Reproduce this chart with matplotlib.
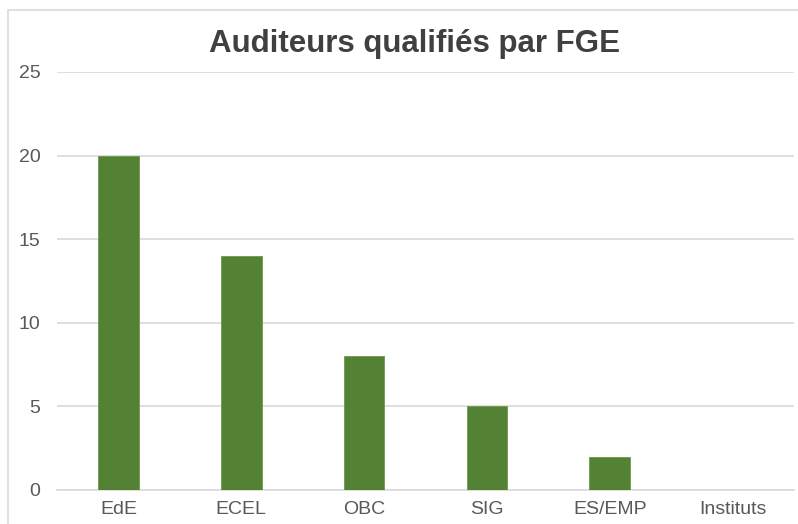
import matplotlib.pyplot as plt
from matplotlib.patches import Rectangle

# Data
categories = ['EdE', 'ECEL', 'OBC', 'SIG', 'ES/EMP', 'Instituts']
values = [20, 14, 8, 5, 2, 0]

plt.rcParams['font.family'] = ['Liberation Sans', 'DejaVu Sans']

fig = plt.figure(figsize=(7.98, 5.24), dpi=100)
ax = fig.add_axes([0.0714, 0.0649, 0.9236, 0.7977])

ax.bar(range(len(categories)), values, width=0.33, color='#548235', edgecolor='#6a9a48', linewidth=0.6, zorder=3)

ax.set_xlim(-0.5, len(categories) - 0.5)
ax.set_ylim(0, 25)
ax.set_yticks(range(0, 26, 5))
ax.set_xticks(range(len(categories)))
ax.set_xticklabels(categories)
ax.tick_params(axis='both', length=0, labelsize=14, labelcolor='#595959')
ax.tick_params(axis='x', pad=8)
ax.tick_params(axis='y', pad=12)
ax.grid(axis='y', color='#d9d9d9', linewidth=1.2, zorder=0)
for side in ['top', 'right', 'left']:
    ax.spines[side].set_visible(False)
ax.spines['bottom'].set_color('#d9d9d9')
ax.spines['bottom'].set_linewidth(1.2)

fig.text(0.52, 1 - 52 / 524, 'Auditeurs qualifiés par FGE', ha='center', va='baseline',
         fontsize=22.5, fontweight='bold', color='#404040')

# outer chart border
fig.patches.append(Rectangle((0.010, -0.01), 1.0, 0.99, transform=fig.transFigure,
                             fill=False, edgecolor='#d9d9d9', linewidth=1.2))

plt.savefig('out.png', dpi=100)
